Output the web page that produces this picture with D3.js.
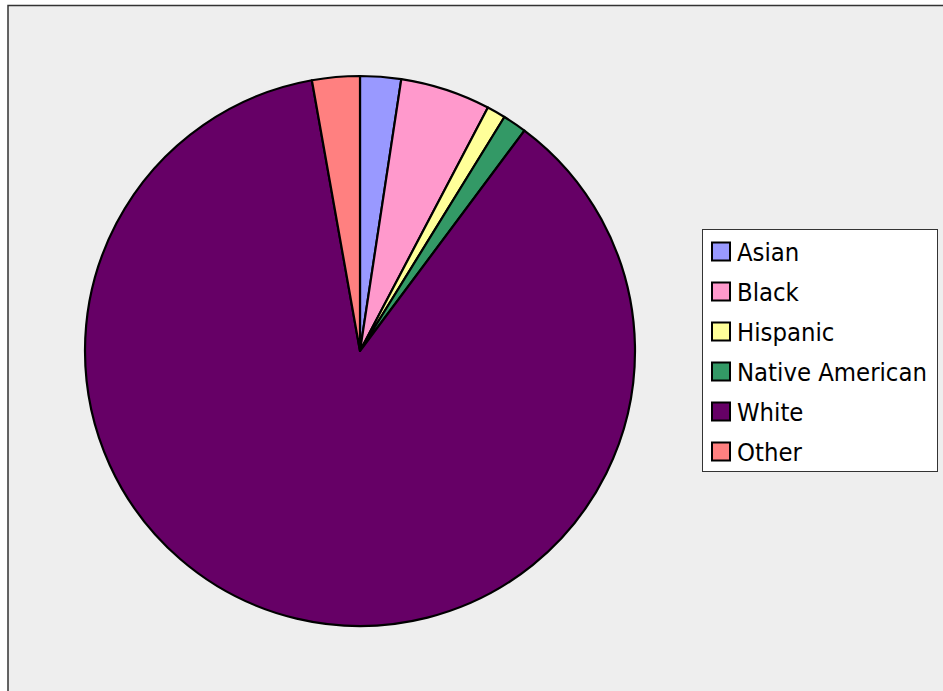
<!DOCTYPE html>
<html><head><meta charset="utf-8">
<script src="https://cdn.jsdelivr.net/npm/d3@7"></script>
<style>html,body{margin:0;padding:0;background:#fff;}svg{display:block;}</style>
</head><body>
<script>
const categories = ["Asian","Black","Hispanic","Native American","White","Other"];
const values = [2.4, 5.3, 1.1, 1.4, 87.0, 2.8];
const colors = ["#9999FF","#FF99CC","#FFFF99","#339966","#660066","#FF8080"];

const W = 943, H = 691;
const svg = d3.select("body").append("svg").attr("width", W).attr("height", H);

// chart area
svg.append("rect").attr("x", 8).attr("y", 5.5).attr("width", W).attr("height", H)
  .attr("fill", "#eeeeee").attr("stroke", "#333").attr("stroke-width", 1.5);

const cx = 360, cy = 351, r = 275;
const data = categories.map((c, i) => ({ cat: c, value: values[i], color: colors[i] }));
const pie = d3.pie().value(d => d.value).sort(null);
const arc = d3.arc().innerRadius(0).outerRadius(r);

svg.append("g").attr("transform", `translate(${cx},${cy})`)
  .selectAll("path").data(pie(data)).join("path")
  .attr("d", arc).attr("fill", d => d.data.color)
  .attr("stroke", "#000").attr("stroke-width", 2.2).attr("stroke-linejoin", "round");

// legend
const lx = 702.5, ly = 229.5, lw = 235, lh = 242;
const lg = svg.append("g");
lg.append("rect").attr("x", lx).attr("y", ly).attr("width", lw).attr("height", lh)
  .attr("fill", "#fff").attr("stroke", "#333").attr("stroke-width", 1);
const row = d3.scaleBand().domain(categories).range([ly + 2, ly + lh]);
const items = lg.selectAll("g.item").data(data).join("g").attr("class", "item")
  .attr("transform", d => `translate(0,${row(d.cat) + row.bandwidth() / 2})`);
items.append("rect").attr("x", 712).attr("y", -9).attr("width", 18).attr("height", 18)
  .attr("fill", d => d.color).attr("stroke", "#000").attr("stroke-width", 2);
const texts = items.append("text").attr("x", 737).attr("y", 0).attr("dy", "0.36em")
  .attr("font-family", "DejaVu Sans Condensed, DejaVu Sans, sans-serif").attr("font-size", 24)
  .attr("fill", "#000").text(d => d.cat);
// fit widest label to reference width
const na = texts.filter(d => d.cat === "Native American").node();
const wNow = na.getComputedTextLength();
texts.attr("font-size", 24 * 190 / wNow);
</script>
</body></html>
